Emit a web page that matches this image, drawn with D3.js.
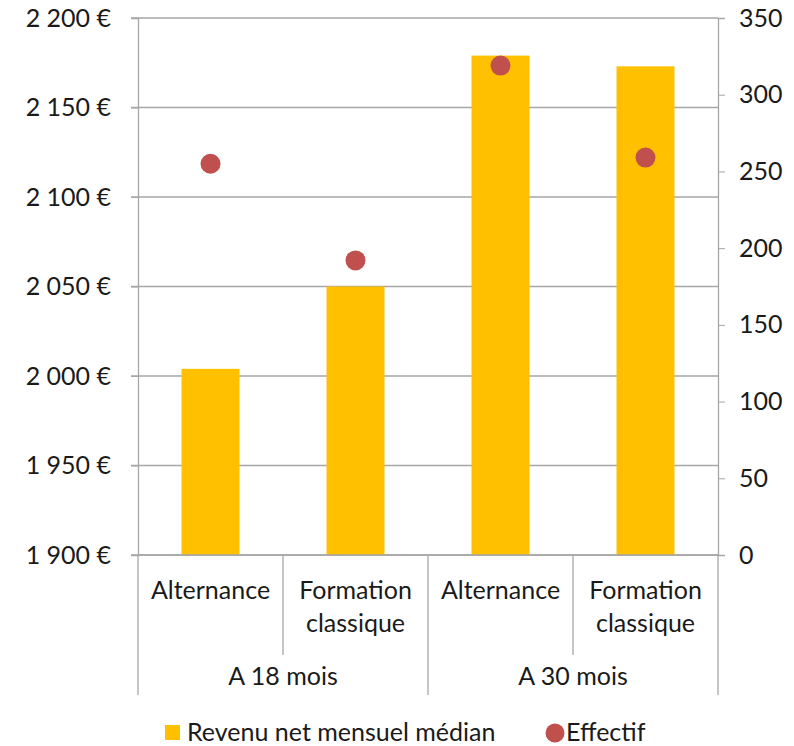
<!DOCTYPE html>
<html><head><meta charset="utf-8">
<script src="https://cdn.jsdelivr.net/npm/d3@7"></script>
<style>body{margin:0;background:#fff}svg{display:block}text{font-family:Lato,"Open Sans",sans-serif;fill:#1a1a1a}</style>
</head><body>
<script>
const groups = ["A 18 mois", "A 30 mois"];
const categories = ["Alternance", "Formation classique", "Alternance", "Formation classique"];
const categoryGroup = [0, 0, 1, 1];
const revenu = [2004, 2050, 2179, 2173];
const effectif = [255, 192, 319, 259];
const leftTicks = [1900, 1950, 2000, 2050, 2100, 2150, 2200];
const rightTicks = [0, 50, 100, 150, 200, 250, 300, 350];

const W = 794, H = 746, FS = "25px";
const m = {left: 138, right: 76, top: 18, bottom: 191};
const svg = d3.select("body").append("svg").attr("width", W).attr("height", H);
const x = d3.scaleBand().domain(d3.range(categories.length)).range([m.left, W - m.right]).paddingInner(0).paddingOuter(0);
const yL = d3.scaleLinear().domain([1900, 2200]).range([H - m.bottom, m.top]);
const yR = d3.scaleLinear().domain([0, 350]).range([H - m.bottom, m.top]);
const grid = "#a6a6a6";
const x0 = m.left, x1 = W - m.right, yb = H - m.bottom;

svg.append("g").selectAll("line").data(leftTicks).join("line")
  .attr("x1", x0 - 7).attr("x2", x1).attr("y1", d => yL(d)).attr("y2", d => yL(d))
  .attr("stroke", grid).attr("stroke-width", 1.3);

const gl = svg.append("g").attr("transform", `translate(${x0},0)`)
  .call(d3.axisLeft(yL).tickValues(leftTicks).tickSize(7).tickPadding(20)
    .tickFormat(d => d3.format(",")(d).replace(",", " ") + " €"));
gl.select(".domain").attr("stroke", grid).attr("stroke-width", 1.3);
gl.selectAll(".tick line").attr("stroke", grid);
gl.selectAll("text").style("font-size", FS).attr("fill", "#1a1a1a").attr("font-family", null);

const gr = svg.append("g").attr("transform", `translate(${x1},0)`)
  .call(d3.axisRight(yR).tickValues(rightTicks).tickSize(7).tickPadding(14));
gr.select(".domain").attr("stroke", grid).attr("stroke-width", 1.3);
gr.selectAll(".tick line").attr("stroke", grid);
gr.selectAll("text").style("font-size", FS).attr("fill", "#1a1a1a").attr("font-family", null);

const bw = x.bandwidth() * 0.4;
svg.append("g").selectAll("rect").data(revenu).join("rect")
  .attr("x", (d, i) => x(i) + x.bandwidth() / 2 - bw / 2)
  .attr("width", bw)
  .attr("y", d => yL(d)).attr("height", d => yb - yL(d))
  .attr("fill", "#FFC000");

svg.append("g").selectAll("circle").data(effectif).join("circle")
  .attr("cx", (d, i) => x(i) + x.bandwidth() / 2)
  .attr("cy", d => yR(d)).attr("r", 10)
  .attr("fill", "#C0504D");

svg.append("line").attr("x1", x0).attr("x2", x1).attr("y1", yb).attr("y2", yb).attr("stroke", grid).attr("stroke-width", 1.3);

const sep = svg.append("g").attr("stroke", grid).attr("stroke-width", 1.3);
for (let i = 0; i <= categories.length; i++) {
  const xx = i < categories.length ? x(i) : x1;
  const outer = (i === 0 || i === categories.length || categoryGroup[i] !== categoryGroup[i - 1]);
  sep.append("line").attr("x1", xx).attr("x2", xx).attr("y1", yb).attr("y2", outer ? 695 : 655);
}

categories.forEach((c, i) => {
  const words = c.split(" ");
  const t = svg.append("text").attr("text-anchor", "middle").style("font-size", FS)
    .attr("x", x(i) + x.bandwidth() / 2).attr("y", 599);
  words.forEach((w, k) => t.append("tspan").attr("x", x(i) + x.bandwidth() / 2).attr("dy", k === 0 ? 0 : 33).text(w));
});

groups.forEach((g, gi) => {
  const idx = categoryGroup.map((v, i) => v === gi ? i : -1).filter(i => i >= 0);
  const cx = (x(idx[0]) + x(idx[idx.length - 1]) + x.bandwidth()) / 2;
  svg.append("text").attr("text-anchor", "middle").style("font-size", FS)
    .attr("x", cx).attr("y", 685).text(g);
});

const lg = svg.append("g");
lg.append("rect").attr("x", 165).attr("y", 725).attr("width", 15).attr("height", 15).attr("fill", "#FFC000");
lg.append("text").attr("x", 187).attr("y", 741).style("font-size", FS).text("Revenu net mensuel médian");
lg.append("circle").attr("cx", 555).attr("cy", 733).attr("r", 9.5).attr("fill", "#C0504D");
lg.append("text").attr("x", 566).attr("y", 741).style("font-size", FS).text("Effectif");
</script>
</body></html>
